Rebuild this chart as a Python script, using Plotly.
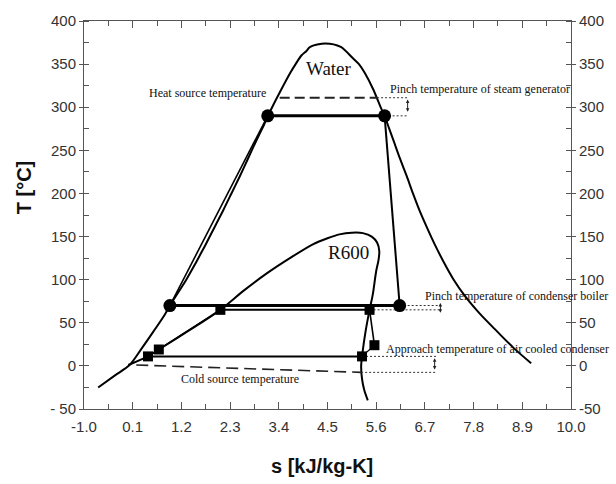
import plotly.graph_objects as go

# ---------------- data ----------------
# Water saturation dome: liquid branch then vapour branch  (s [kJ/kg-K], T [°C])
water_liq_s = [-0.68, -0.30, 0.03, 0.30, 0.57, 0.83, 0.94, 1.31, 1.53, 1.74, 1.94, 2.14, 2.33, 2.52, 2.70, 2.88, 3.07, 3.25, 3.45, 3.66, 3.78, 3.91, 4.02, 4.11, 4.45]
water_liq_T = [-25, -11, 1, 20, 40, 60, 70, 100, 120, 140, 160, 180, 200, 220, 240, 260, 280, 300, 320, 340, 350, 360, 365, 370, 374]
water_vap_s = [4.80, 5.07, 5.21, 5.34, 5.54, 5.70, 5.79, 5.86, 6.00, 6.14, 6.29, 6.43, 6.58, 6.75, 6.93, 7.13, 7.35, 7.62, 7.95, 8.33, 8.72, 9.10]
water_vap_T = [370, 357, 350, 340, 320, 300, 290, 280, 260, 240, 220, 200, 180, 160, 140, 120, 100, 80, 60, 40, 20, 3]

# R600 saturation dome
r600_s = [0.0, 0.445, 0.69, 1.40, 2.08, 2.60, 3.12, 3.65, 4.17, 4.50, 4.77, 5.05, 5.30, 5.50, 5.62, 5.67, 5.65, 5.60, 5.52, 5.45, 5.36, 5.29, 5.26, 5.28, 5.33, 5.41]
r600_T = [1, 11, 19, 42, 65, 87, 107, 125, 141, 148, 152.5, 154.5, 154, 150, 143, 133, 122, 110, 82, 65, 40, 15, 0, -15, -28, -40]

# Water cycle states (circles)
w_state_s = [0.94, 3.15, 5.79, 6.13]
w_state_T = [70, 290, 290, 70]

# R600 cycle states (squares)
r_state_s = [0.445, 0.69, 2.08, 5.45, 5.56, 5.28]
r_state_T = [11, 19, 65, 65, 24, 11]

# Heat source / cold source lines
heat_s = [3.42, 5.62]
heat_T = [311, 311]
cold_s = [0.18, 5.26]
cold_T = [1, -7.5]

# Pinch / approach helper lines (end of dotted guides)
sg_end_s = 6.33
cb_end_s = 7.07
ap_end_s = 6.95

x_ticks = [-1.0, 0.1, 1.2, 2.3, 3.4, 4.5, 5.6, 6.7, 7.8, 8.9, 10.0]
x_tick_text = ["-1.0", "0.1", "1.2", "2.3", "3.4", "4.5", "5.6", "6.7", "7.8", "8.9", "10.0"]
y_ticks = [-50, 0, 50, 100, 150, 200, 250, 300, 350, 400]
y_tick_text_left = ["- 50", "0", "50", "100", "150", "200", "250", "300", "350", "400"]
y_tick_text_right = ["-50", "0", "50", "100", "150", "200", "250", "300", "350", "400"]

# ---------------- figure ----------------
fig = go.Figure()


def add_line(xs, ys, width=2.0, dash=None, color="black", shape="linear", smoothing=1.0):
    ln = dict(color=color, width=width, shape=shape)
    if dash:
        ln["dash"] = dash
    if shape == "spline":
        ln["smoothing"] = smoothing
    fig.add_trace(go.Scatter(x=xs, y=ys, mode="lines", line=ln,
                             hoverinfo="skip", showlegend=False))


# domes
add_line(water_liq_s + water_vap_s, water_liq_T + water_vap_T, width=2, shape="spline", smoothing=0.8)
add_line(r600_s, r600_T, width=2, shape="spline", smoothing=0.8)

# water cycle
add_line([w_state_s[0], w_state_s[1]], [w_state_T[0], w_state_T[1]], width=1.6)
add_line([w_state_s[1], w_state_s[2]], [w_state_T[1], w_state_T[2]], width=3)
add_line([w_state_s[2], w_state_s[3]], [w_state_T[2], w_state_T[3]], width=2)
add_line([w_state_s[3], w_state_s[0]], [w_state_T[3], w_state_T[0]], width=3)

# R600 cycle
add_line(r_state_s[0:3], r_state_T[0:3], width=1.6)
add_line([r_state_s[2], r_state_s[3]], [r_state_T[2], r_state_T[3]], width=2)
add_line([r_state_s[3], r_state_s[4]], [r_state_T[3], r_state_T[4]], width=1.6)
add_line([r_state_s[4], r_state_s[5]], [r_state_T[4], r_state_T[5]], width=1.2)
add_line([r_state_s[5], r_state_s[0]], [r_state_T[5], r_state_T[0]], width=2)

# heat / cold source
add_line(heat_s, heat_T, width=1.8, dash="10px,5px", color="#222")
add_line(cold_s, cold_T, width=1.6, dash="12px,6px", color="#222")

# dotted helper lines
dot = "2px,2px"
add_line([heat_s[1], sg_end_s], [heat_T[1], heat_T[1]], width=1, dash=dot, color="#333")
add_line([w_state_s[2], sg_end_s], [w_state_T[2], w_state_T[2]], width=1, dash=dot, color="#333")
add_line([w_state_s[3], cb_end_s], [w_state_T[3], w_state_T[3]], width=1, dash=dot, color="#333")
add_line([r_state_s[3], cb_end_s], [r_state_T[3], r_state_T[3]], width=1, dash=dot, color="#333")
add_line([r_state_s[5], ap_end_s], [r_state_T[5], r_state_T[5]], width=1, dash=dot, color="#333")
add_line([cold_s[1], ap_end_s], [cold_T[1], cold_T[1]], width=1, dash=dot, color="#333")

# markers
fig.add_trace(go.Scatter(x=w_state_s, y=w_state_T, mode="markers",
                         marker=dict(symbol="circle", size=13, color="black"),
                         hoverinfo="skip", showlegend=False))
fig.add_trace(go.Scatter(x=r_state_s, y=r_state_T, mode="markers",
                         marker=dict(symbol="square", size=10, color="black"),
                         hoverinfo="skip", showlegend=False))

# dummy trace so the top / right axes are drawn
fig.add_trace(go.Scatter(x=[x_ticks[0]], y=[y_ticks[0]], xaxis="x2", yaxis="y2", mode="markers",
                         marker=dict(opacity=0), hoverinfo="skip", showlegend=False))

# arrows
arrows = [
    (sg_end_s - 0.02, 293, 309),
    (cb_end_s - 0.02, 60, 73),
    (ap_end_s - 0.03, -6, 9),
]
for ax_s, t0, t1 in arrows:
    fig.add_annotation(x=ax_s, y=t1, ax=ax_s, ay=t0, xref="x", yref="y", axref="x", ayref="y",
                       text="", showarrow=True, arrowhead=2, arrowside="end+start",
                       arrowsize=0.7, arrowwidth=1, arrowcolor="#222")

serif = "Liberation Serif"
small = dict(family=serif, size=12, color="#111")
fig.add_annotation(x=3.15, y=316, text="Heat source temperature", showarrow=False,
                   xanchor="right", yanchor="middle", font=small)
fig.add_annotation(x=5.86, y=321.5, text="Pinch temperature of steam generator", showarrow=False,
                   xanchor="left", yanchor="middle", font=small)
fig.add_annotation(x=6.65, y=80.5, text="Pinch temperature of condenser boiler", showarrow=False,
                   xanchor="left", yanchor="middle", font=small)
fig.add_annotation(x=5.77, y=19.3, text="Approach temperature of air cooled condenser", showarrow=False,
                   xanchor="left", yanchor="middle", font=small)
fig.add_annotation(x=1.14, y=-15.3, text="Cold source temperature", showarrow=False,
                   xanchor="left", yanchor="middle", font=small)
fig.add_annotation(x=4.54, y=345, text="Water", showarrow=False,
                   xanchor="center", yanchor="middle",
                   font=dict(family=serif, size=19, color="#111"))
fig.add_annotation(x=4.98, y=132, text="R600", showarrow=False,
                   xanchor="center", yanchor="middle",
                   font=dict(family=serif, size=19, color="#111"))

# axis titles
fig.add_annotation(x=(24 - 84) / 488, y=(409 - 186) / 390, xref="paper", yref="paper",
                   xanchor="center", yanchor="middle",
                   text="<b>T [°C]</b>", textangle=-90, showarrow=False,
                   font=dict(family="Liberation Sans", size=20, color="#111"))
fig.add_annotation(x=(322 - 84) / 488, y=(409 - 466) / 390, xref="paper", yref="paper",
                   xanchor="center", yanchor="middle",
                   text="<b>s [kJ/kg-K]</b>", showarrow=False,
                   font=dict(family="Liberation Sans", size=20, color="#111"))

axis_color = "#555"
tick_font = dict(family="Liberation Sans", size=15, color="#333")
x_common = dict(
    range=[-1.0, 10.0], tickvals=x_ticks,
    showgrid=False, zeroline=False, showline=True, linecolor=axis_color, linewidth=1,
    ticks="inside", ticklen=7, tickcolor=axis_color,
    minor=dict(tick0=-1.0, dtick=0.55, ticks="inside", ticklen=5, tickcolor=axis_color, showgrid=False),
)
y_common = dict(
    range=[-50, 400], tickvals=y_ticks,
    showgrid=False, zeroline=False, showline=True, linecolor=axis_color, linewidth=1,
    ticks="outside", ticklen=4, tickcolor=axis_color, tickfont=tick_font,
    minor=dict(tick0=-50, dtick=25, ticks="inside", ticklen=5, tickcolor=axis_color, showgrid=False),
)

fig.update_layout(
    width=616, height=484,
    margin=dict(l=84, r=44, t=19, b=75),
    paper_bgcolor="white", plot_bgcolor="white",
    showlegend=False,
    xaxis=dict(**x_common, ticktext=x_tick_text, tickfont=tick_font, ticklabelstandoff=4),
    xaxis2=dict(**x_common, overlaying="x", side="top", anchor="y", showticklabels=False),
    yaxis=dict(**y_common, ticktext=y_tick_text_left),
    yaxis2=dict(**y_common, ticktext=y_tick_text_right, overlaying="y", side="right", anchor="x"),
)

fig.write_html("out.html")
